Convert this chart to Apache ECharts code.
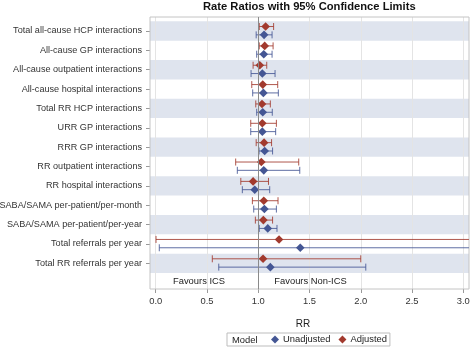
<!DOCTYPE html>
<html>
<head>
<meta charset="utf-8">
<script src="https://cdn.jsdelivr.net/npm/echarts@6/dist/echarts.min.js"></script>
<style>
html, body { margin: 0; padding: 0; background: #fff; }
#chart { width: 472px; height: 350px; }
</style>
</head>
<body>
<div id="chart"></div>
<script>
// categories, top to bottom
const categories = [
    'Total all-cause HCP interactions',
    'All-cause GP interactions',
    'All-cause outpatient interactions',
    'All-cause hospital interactions',
    'Total RR HCP interactions',
    'URR GP interactions',
    'RRR GP interactions',
    'RR outpatient interactions',
    'RR hospital interactions',
    'SABA/SAMA per-patient/per-month',
    'SABA/SAMA per-patient/per-year',
    'Total referrals per year',
    'Total RR referrals per year'
]

// Adjusted model (rate ratio, lower / upper 95% CL)
const adjEst = [1.072, 1.063, 1.015, 1.044, 1.037, 1.040, 1.057, 1.030, 0.950, 1.054, 1.050, 1.203, 1.047]
const adjLo  = [1.010, 1.010, 0.950, 0.937, 0.976, 0.927, 0.980, 0.780, 0.830, 0.943, 0.972, 0.003, 0.552]
const adjHi  = [1.150, 1.145, 1.083, 1.190, 1.118, 1.177, 1.130, 1.395, 1.100, 1.193, 1.140, 3.500, 2.000]

// Unadjusted model
const unadjEst = [1.057, 1.054, 1.040, 1.050, 1.044, 1.040, 1.063, 1.054, 0.966, 1.060, 1.093, 1.410, 1.118]
const unadjLo  = [0.980, 0.985, 0.930, 0.946, 0.985, 0.927, 1.008, 0.796, 0.845, 0.956, 1.010, 0.035, 0.615]
const unadjHi  = [1.135, 1.135, 1.164, 1.196, 1.137, 1.170, 1.140, 1.405, 1.112, 1.177, 1.183, 3.500, 2.049]

const xTicks = [0, 0.5, 1, 1.5, 2, 2.5, 3]

const FONT = 'Liberation Sans, Arial, sans-serif'
const AXIS_EDGE = 3.055   // right frame edge in RR units

const renderCI = (params, api) => {
    const yv = api.value(0)
    const hiVal = api.value(3)
    const est = api.coord([api.value(1), yv])
    const lo = api.coord([api.value(2), yv])
    const hi = api.coord([Math.min(hiVal, AXIS_EDGE), yv])
    const color = api.visual('color')
    const y = est[1]
    const cap = 3.5
    const d = 4.3
    const lineStyle = { stroke: color, lineWidth: 1, opacity: 0.85 }
    const children = [
        { type: 'line', shape: { x1: lo[0], y1: y, x2: hi[0], y2: y }, style: lineStyle },
        { type: 'line', shape: { x1: lo[0], y1: y - cap, x2: lo[0], y2: y + cap }, style: lineStyle }
    ]
    if (hiVal <= AXIS_EDGE) {
        children.push({ type: 'line', shape: { x1: hi[0], y1: y - cap, x2: hi[0], y2: y + cap }, style: lineStyle })
    }
    children.push({
        type: 'polygon',
        shape: { points: [[est[0], y - d], [est[0] + d, y], [est[0], y + d], [est[0] - d, y]] },
        style: { fill: color }
    })
    return { type: 'group', children: children }
}

const chart = echarts.init(document.getElementById('chart'))

const option = {
    animation: false,
    title: {
        text: 'Rate Ratios with 95% Confidence Limits',
        left: 203,
        top: 1,
        padding: 0,
        textStyle: { fontFamily: FONT, fontSize: 11.2, fontWeight: 'bold', color: '#111' }
    },
    legend: {
        data: [
            { name: 'Unadjusted', icon: 'diamond' },
            { name: 'Adjusted', icon: 'diamond' }
        ],
        left: 227,
        top: 333,
        padding: [2, 3, 2, 44],
        itemWidth: 8,
        itemHeight: 8,
        itemGap: 8,
        borderColor: '#bdbdbd',
        borderWidth: 1,
        borderRadius: 0,
        textStyle: { fontFamily: FONT, fontSize: 9.4, color: '#222', padding: [0, 0, 0, -1] }
    },
    graphic: [
        { type: 'text', left: 232, top: 335.5, style: { text: 'Model', font: '9.4px ' + FONT, fill: '#222' } },
        { type: 'text', x: 199, y: 281, style: { text: 'Favours ICS', font: '9.4px ' + FONT, fill: '#222', align: 'center', verticalAlign: 'middle' } },
        { type: 'text', x: 310.5, y: 281, style: { text: 'Favours Non-ICS', font: '9.4px ' + FONT, fill: '#222', align: 'center', verticalAlign: 'middle' } }
    ],
    grid: [
        // frame
        { left: 150, right: 3, top: 17, bottom: 61, outerBoundsMode: 'none', containLabel: false, show: true, borderColor: '#c4c4c4', borderWidth: 1, backgroundColor: 'transparent', z: 3 },
        // bands + category labels
        { left: 150, right: 3, top: 21.3, bottom: 77, outerBoundsMode: 'none', containLabel: false },
        // data
        { left: 155.7, right: 8.7, top: 17, bottom: 61, outerBoundsMode: 'none', containLabel: false }
    ],
    xAxis: [
        { gridIndex: 0, type: 'value', show: false, min: 0, max: 1 },
        { gridIndex: 1, type: 'value', show: false, min: 0, max: 1 },
        {
            gridIndex: 2,
            type: 'value',
            min: 0,
            max: 3,
            interval: 0.5,
            z: 2,
            name: 'RR',
            nameLocation: 'middle',
            nameGap: 30,
            nameTextStyle: { fontFamily: FONT, fontSize: 10, color: '#222', padding: [0, 13, 0, 0] },
            axisLine: { show: false, onZero: false },
            axisTick: { show: true, length: 4, lineStyle: { color: '#999' } },
            axisLabel: {
                margin: 8,
                fontFamily: FONT,
                fontSize: 9.4,
                color: '#333',
                formatter: v => (xTicks.indexOf(v) >= 0 ? v.toFixed(1) : '')
            },
            splitLine: { show: true, lineStyle: { color: '#e4e4e4', width: 1 } }
        }
    ],
    yAxis: [
        { gridIndex: 0, type: 'value', show: false, min: 0, max: 1 },
        {
            gridIndex: 1,
            type: 'category',
            data: categories,
            inverse: true,
            z: 0,
            axisLine: { show: false, onZero: false },
            axisTick: { show: true, alignWithLabel: true, length: 4, lineStyle: { color: '#999' } },
            axisLabel: { margin: 8, fontFamily: FONT, fontSize: 9.1, color: '#333' },
            splitLine: { show: false },
            splitArea: { show: true, areaStyle: { color: ['#dfe4ee', 'rgba(255,255,255,0)'] } }
        },
        { gridIndex: 2, type: 'value', show: false, inverse: true, min: -0.722, max: 13.33, axisLine: { onZero: false } }
    ],
    series: [
        {
            name: 'Unadjusted',
            type: 'custom',
            xAxisIndex: 2,
            yAxisIndex: 2,
            z: 4,
            itemStyle: { color: '#445694' },
            renderItem: renderCI,
            data: categories.map((c, i) => [i + 0.2, unadjEst[i], unadjLo[i], unadjHi[i]]),
            markLine: {
                silent: true,
                symbol: ['none', 'none'],
                label: { show: false },
                lineStyle: { color: '#8a8a8a', type: 'solid', width: 1 },
                data: [{ xAxis: 1 }]
            }
        },
        {
            name: 'Adjusted',
            type: 'custom',
            xAxisIndex: 2,
            yAxisIndex: 2,
            z: 4,
            itemStyle: { color: '#a23a2e' },
            renderItem: renderCI,
            data: categories.map((c, i) => [i - 0.23, adjEst[i], adjLo[i], adjHi[i]])
        }
    ]
}

chart.setOption(option)
</script>
</body>
</html>
